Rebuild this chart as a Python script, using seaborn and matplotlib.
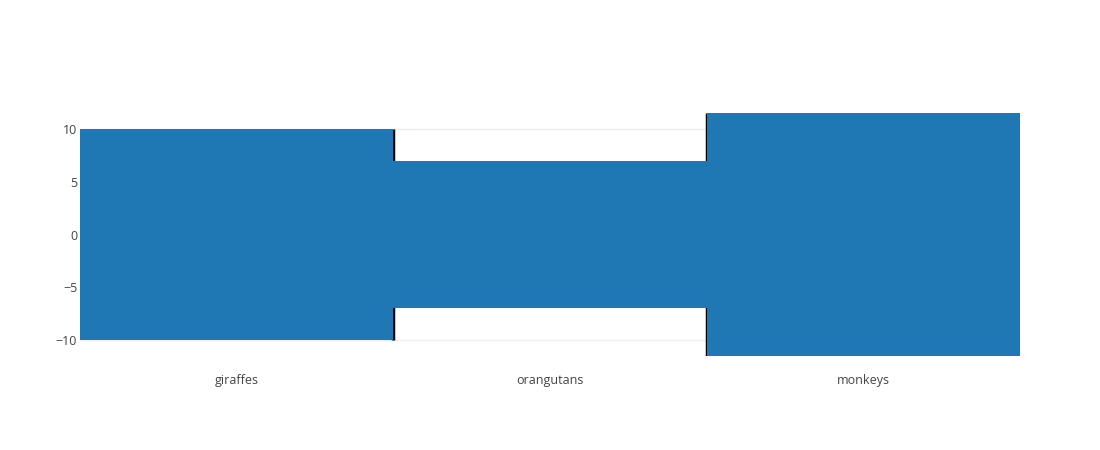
import numpy as np
import pandas as pd
import matplotlib
matplotlib.use('Agg')
import matplotlib.pyplot as plt
import seaborn as sns

animals = ['giraffes', 'orangutans', 'monkeys']
values = [10, 7, 11.5]
yticks = [-10, -5, 0, 5, 10]
bar_color = '#1f77b4'

sns.set_style('white')
plt.rcParams['font.family'] = ['Open Sans', 'DejaVu Sans']

df = pd.DataFrame({'animal': animals, 'up': values, 'down': [-v for v in values]})

fig = plt.figure(figsize=(11, 4.5), dpi=100)
ax = fig.add_axes([80 / 1100, 94 / 450, 940 / 1100, 243 / 450])

# bars are symmetric around zero: draw the upper and lower halves
sns.barplot(data=df, x='animal', y='up', color=bar_color, width=1,
            saturation=1, linewidth=0, ax=ax, zorder=3)
sns.barplot(data=df, x='animal', y='down', color=bar_color, width=1,
            saturation=1, linewidth=0, ax=ax, zorder=3)

# black separators between neighbouring bars
for i in range(len(values) - 1):
    h = max(values[i], values[i + 1])
    ax.vlines(i + 0.5, -h, h, color='black', lw=2.5, zorder=2)

ax.set_ylim(-max(values), max(values))
ax.set_xlim(-0.5, len(animals) - 0.5)
ax.set_yticks(yticks)
ax.set_yticklabels([str(t).replace('-', '\u2212') for t in yticks])
ax.yaxis.grid(True, color='#eeeeee', lw=1, zorder=0)
ax.set_axisbelow(True)
ax.set_xlabel('')
ax.set_ylabel('')
ax.tick_params(axis='both', length=0, labelsize=9, labelcolor='#444444')
ax.tick_params(axis='x', pad=13)
ax.tick_params(axis='y', pad=2)
for s in ax.spines.values():
    s.set_visible(False)

fig.savefig('out.png', dpi=100)
